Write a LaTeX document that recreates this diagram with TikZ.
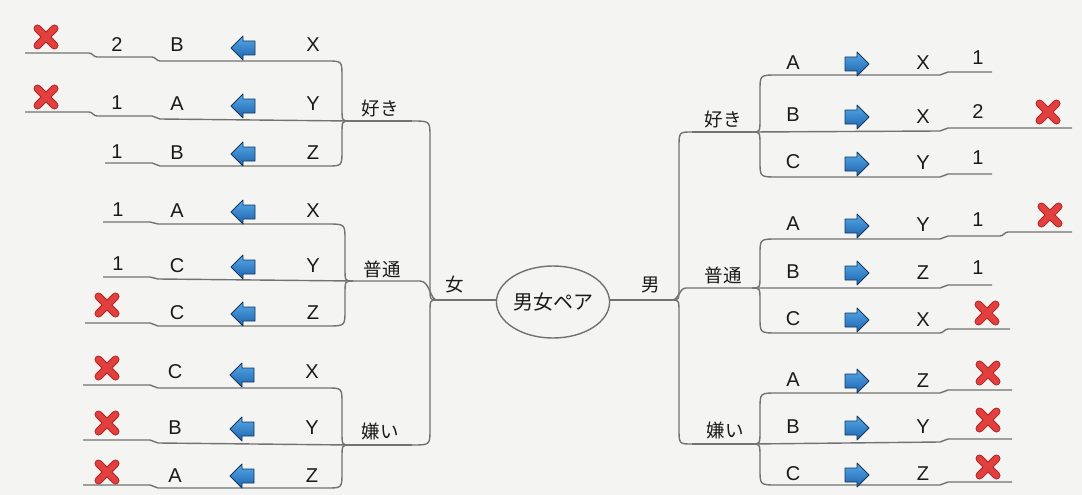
\documentclass[tikz,border=0pt]{standalone}
\usepackage{fontspec}
\setmainfont{Liberation Sans}
\newfontfamily\cjk{Noto Sans CJK JP}
\usetikzlibrary{calc,shapes.geometric}
\definecolor{bg}{HTML}{F4F4F2}
\definecolor{lnc}{HTML}{727272}
\definecolor{abA}{HTML}{55AAE8}
\definecolor{abB}{HTML}{1E62AE}
\definecolor{abD}{HTML}{16365E}
\definecolor{xr}{HTML}{E2403F}
\definecolor{xd}{HTML}{B02628}
\definecolor{txt}{HTML}{1A1A1A}
\newcommand\brc[3]{\draw[ln] let \p1=(#1),\p2=(#2),\n1={sign(\y2-\y1)} in (#1) .. controls ({\x1+#3},\y1) .. ({\x1+#3},{\y1+(\n1)*13pt}) -- ({\x1+#3},{\y2-(\n1)*16pt}) .. controls ({\x1+#3},\y2) .. (#2);}
\newcommand\tx[4]{\node[lt] (#1) at (#2,-#3) {#4};}
\tikzset{
  rarrow/.pic={\shadedraw[top color=abA,bottom color=abB,draw=abD,line width=0.8pt,line join=round] (-12,-7) -- (0,-7) -- (0,-12) -- (12,0) -- (0,12) -- (0,7) -- (-12,7) -- cycle;},
  larrow/.pic={\shadedraw[top color=abA,bottom color=abB,draw=abD,line width=0.8pt,line join=round] (12,-7) -- (0,-7) -- (0,-12) -- (-12,0) -- (0,12) -- (0,7) -- (12,7) -- cycle;},
  xmark/.pic={\draw[xd,line width=8pt,line cap=round] (-8.5,-8.5) -- (8.5,8.5) (-8.5,8.5) -- (8.5,-8.5);
              \draw[xr,line width=6pt,line cap=round] (-8.5,-8.5) -- (8.5,8.5) (-8.5,8.5) -- (8.5,-8.5);}
}
\begin{document}
\begin{tikzpicture}[x=1pt,y=1pt,
  ln/.style={draw=lnc,line width=1.4pt},
  lt/.style={font=\fontsize{20}{22}\selectfont,inner sep=0pt,text=txt},
  jp/.style={font=\cjk\fontsize{18.5}{20}\selectfont,inner sep=0pt,text=txt}]
\fill[bg] (0,0) rectangle (1082,-495);
\useasboundingbox (0,0) rectangle (1082,-495);

% centre
\node[ellipse,draw=lnc,line width=1.4pt,minimum width=102pt,minimum height=72pt,inner sep=0pt,text=txt,font=\cjk\fontsize{20}{22}\selectfont] (c) at (553,-302) {男女ペア};

\coordinate (jW) at (437,-300);
\coordinate (jM) at (672,-300);
\coordinate (jW1) at (350,-121); \coordinate (hW1) at (412,-121);
\coordinate (jW2) at (353,-281); \coordinate (hW2) at (420,-281);
\coordinate (jW3) at (350,-445); \coordinate (hW3) at (412,-445);
\coordinate (jM1) at (752,-132); \coordinate (hM1) at (692,-132);
\coordinate (jM2) at (752,-288); \coordinate (hM2) at (686,-288);
\coordinate (jM3) at (752,-444); \coordinate (hM3) at (692,-444);

\draw[ln] (c.west|-jW) -- (jW);
\draw[ln] (c.east|-jM) -- (jM);

\draw[ln] (jW1) -- (hW1); \brc{jW}{hW1}{-7pt}
\draw[ln] (jW2) -- (hW2) .. controls (430,-281) and (430,-300) .. (jW);
\draw[ln] (jW3) -- (hW3); \brc{jW}{hW3}{-7pt}

\draw[ln] (hM1) -- (jM1); \brc{jM}{hM1}{7pt}
\draw[ln] (jM) .. controls (679,-300) and (679,-288) .. (hM2) -- (jM2);
\draw[ln] (hM3) -- (jM3); \brc{jM}{hM3}{7pt}

% ---- left rows
\coordinate (eW1a) at (327,-61); \brc{jW1}{eW1a}{-8pt}
\draw[ln] (eW1a) -- (160,-61) to[out=180,in=0] (152,-57) -- (97,-57) to[out=180,in=0] (89,-53) -- (25,-53);
\draw[ln] (jW1) -- (160,-119) to[out=180,in=0] (152,-116) -- (97,-116) to[out=180,in=0] (89,-112) -- (25,-112);
\coordinate (eW1c) at (327,-166); \brc{jW1}{eW1c}{-8pt}
\draw[ln] (eW1c) -- (160,-166) to[out=180,in=0] (152,-163) -- (105,-163);

\coordinate (eW2a) at (327,-224); \brc{jW2}{eW2a}{-8pt}
\draw[ln] (eW2a) -- (158,-224) to[out=180,in=0] (150,-222) -- (103,-222);
\draw[ln] (jW2) -- (158,-279) to[out=180,in=0] (150,-277) -- (103,-277);
\coordinate (eW2c) at (327,-326); \brc{jW2}{eW2c}{-8pt}
\draw[ln] (eW2c) -- (158,-326) to[out=180,in=0] (150,-323) -- (85,-323);

\coordinate (eW3a) at (327,-388); \brc{jW3}{eW3a}{-8pt}
\draw[ln] (eW3a) -- (158,-388) to[out=180,in=0] (150,-385) -- (83,-385);
\draw[ln] (jW3) -- (158,-443) to[out=180,in=0] (150,-440) -- (83,-440);
\coordinate (eW3c) at (327,-488); \brc{jW3}{eW3c}{-8pt}
\draw[ln] (eW3c) -- (158,-488) to[out=180,in=0] (150,-485) -- (83,-485);

% ---- right rows
\coordinate (eM1a) at (777,-75); \brc{jM1}{eM1a}{8pt}
\draw[ln] (eM1a) -- (940,-75) to[out=0,in=180] (948,-72) -- (992,-72);
\draw[ln] (jM1) -- (940,-131) to[out=0,in=180] (948,-128) -- (1072,-128);
\coordinate (eM1c) at (777,-177); \brc{jM1}{eM1c}{8pt}
\draw[ln] (eM1c) -- (940,-177) to[out=0,in=180] (948,-174) -- (992,-174);

\coordinate (eM2a) at (777,-239); \brc{jM2}{eM2a}{8pt}
\draw[ln] (eM2a) -- (940,-239) to[out=0,in=180] (948,-236) -- (1000,-236) to[out=0,in=180] (1008,-232) -- (1072,-232);
\draw[ln] (jM2) -- (940,-288) to[out=0,in=180] (948,-285) -- (992,-285);
\coordinate (eM2c) at (777,-333); \brc{jM2}{eM2c}{8pt}
\draw[ln] (eM2c) -- (940,-333) to[out=0,in=180] (948,-329) -- (1010,-329);

\coordinate (eM3a) at (777,-393); \brc{jM3}{eM3a}{8pt}
\draw[ln] (eM3a) -- (940,-393) to[out=0,in=180] (948,-390) -- (1012,-390);
\draw[ln] (jM3) -- (940,-442) to[out=0,in=180] (948,-439) -- (1012,-439);
\coordinate (eM3c) at (777,-485); \brc{jM3}{eM3c}{8pt}
\draw[ln] (eM3c) -- (940,-485) to[out=0,in=180] (948,-482) -- (1012,-482);

% ---- labels
\node[jp] (lW) at (455,-285) {女};
\node[jp] (lM) at (651,-285) {男};
\node[jp] (lW1) at (380,-108) {好き};
\node[jp] (lW2) at (382,-269) {普通};
\node[jp] (lW3) at (380,-431) {嫌い};
\node[jp] (lM1) at (723,-119) {好き};
\node[jp] (lM2) at (723,-275) {普通};
\node[jp] (lM3) at (725,-430) {嫌い};

% ---- left texts
\tx{w1an}{117}{45}{2} \tx{w1al}{177}{45}{B} \tx{w1at}{313}{45}{X}
\tx{w1bn}{117}{103}{1} \tx{w1bl}{177}{104}{A} \tx{w1bt}{313}{104}{Y}
\tx{w1cn}{117}{152}{1} \tx{w1cl}{177}{153}{B} \tx{w1ct}{313}{153}{Z}
\tx{w2an}{118}{210}{1} \tx{w2al}{177}{211}{A} \tx{w2at}{313}{211}{X}
\tx{w2bn}{118}{264}{1} \tx{w2bl}{177}{266}{C} \tx{w2bt}{313}{266}{Y}
\tx{w2cl}{177}{313}{C} \tx{w2ct}{313}{313}{Z}
\tx{w3al}{175}{372}{C} \tx{w3at}{312}{372}{X}
\tx{w3bl}{175}{428}{B} \tx{w3bt}{312}{428}{Y}
\tx{w3cl}{175}{476}{A} \tx{w3ct}{312}{476}{Z}

\pic at (243,-48) {larrow};
\pic at (243,-106) {larrow};
\pic at (243,-154) {larrow};
\pic at (243,-212) {larrow};
\pic at (243,-267) {larrow};
\pic at (243,-314) {larrow};
\pic at (242,-375) {larrow};
\pic at (242,-429) {larrow};
\pic at (242,-476) {larrow};

\pic at (46,-37) {xmark};
\pic at (46,-97) {xmark};
\pic at (107,-305) {xmark};
\pic at (107,-368) {xmark};
\pic at (107,-423) {xmark};
\pic at (107,-472) {xmark};

% ---- right texts
\tx{m1al}{793}{63}{A} \tx{m1at}{923}{63}{X} \tx{m1an}{978}{58}{1}
\tx{m1bl}{793}{115}{B} \tx{m1bt}{923}{117}{X} \tx{m1bn}{978}{112}{2}
\tx{m1cl}{793}{162}{C} \tx{m1ct}{923}{163}{Y} \tx{m1cn}{978}{158}{1}
\tx{m2al}{793}{224}{A} \tx{m2at}{923}{225}{Y} \tx{m2an}{978}{220}{1}
\tx{m2bl}{793}{272}{B} \tx{m2bt}{923}{273}{Z} \tx{m2bn}{978}{268}{1}
\tx{m2cl}{793}{319}{C} \tx{m2ct}{923}{320}{X}
\tx{m3al}{793}{380}{A} \tx{m3at}{923}{381}{Z}
\tx{m3bl}{793}{427}{B} \tx{m3bt}{923}{427}{Y}
\tx{m3cl}{793}{474}{C} \tx{m3ct}{923}{474}{Z}

\pic at (857,-64) {rarrow};
\pic at (857,-117) {rarrow};
\pic at (857,-164) {rarrow};
\pic at (857,-226) {rarrow};
\pic at (857,-273) {rarrow};
\pic at (857,-320) {rarrow};
\pic at (857,-381) {rarrow};
\pic at (857,-428) {rarrow};
\pic at (857,-475) {rarrow};

\pic at (1048,-112) {xmark};
\pic at (1050,-215) {xmark};
\pic at (987,-313) {xmark};
\pic at (988,-373) {xmark};
\pic at (988,-420) {xmark};
\pic at (988,-467) {xmark};
\end{tikzpicture}
\end{document}
